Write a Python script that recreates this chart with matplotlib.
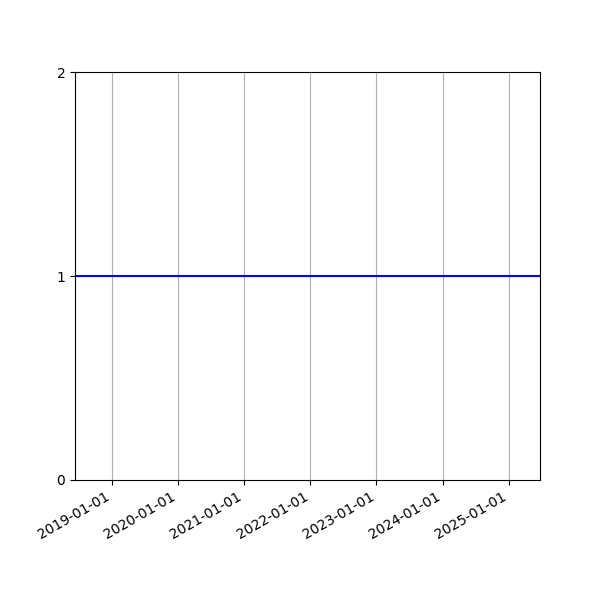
import matplotlib
matplotlib.use("Agg")
import matplotlib.pyplot as plt
import matplotlib.dates as mdates
import pandas as pd

# data
dates = pd.to_datetime(["2018-06-13", "2025-06-21"])
values = [1, 1]
year_ticks = pd.to_datetime(["2019-01-01", "2020-01-01", "2021-01-01", "2022-01-01",
                             "2023-01-01", "2024-01-01", "2025-01-01"])
y_ticks = [0, 1, 2]

fig, ax = plt.subplots(figsize=(6, 6), dpi=100)
ax.plot(dates, values, color="blue")

ax.set_xlim(dates[0], dates[-1])
ax.set_ylim(0, 2)
ax.set_yticks(y_ticks)
ax.set_xticks(year_ticks)
ax.xaxis.set_major_formatter(mdates.DateFormatter("%Y-%m-%d"))
ax.grid(True, axis="x")
fig.autofmt_xdate()

fig.savefig("out.png", dpi=100)
